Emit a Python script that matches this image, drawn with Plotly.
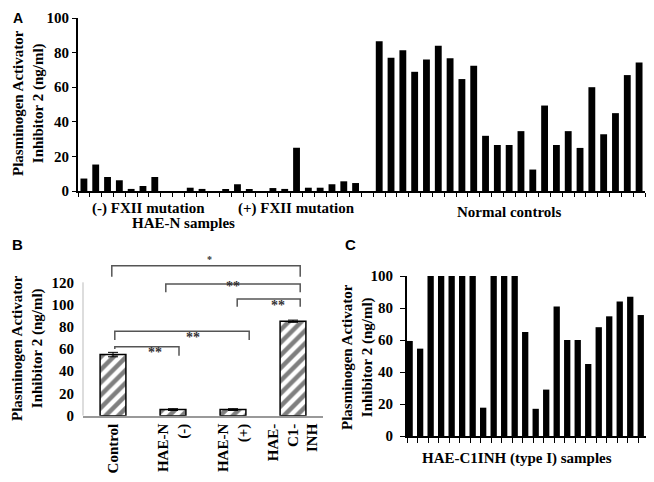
import plotly.graph_objects as go

W, H = 654, 482          # browser window
BODY = 8                 # default page margin around the plot div
FW, FH = W - 2 * BODY, H - 2 * BODY

# ---------------- Panel A data ----------------
fxii_neg = [7.2, 15.3, 8.1, 6.2, 1.2, 2.9, 8.1, 0, 0, 1.9, 1.2, 0]
fxii_pos = [1.0, 3.9, 1.0, 0, 1.7, 1.2, 25.0, 1.9, 1.9, 3.9, 5.6, 4.6, 0]
normal_ctrl = [86.5, 77, 81.3, 68.9, 76, 84, 76.8, 64.7, 72.4, 31.9, 26.6, 26.6,
               34.6, 12.4, 49.4, 26.6, 34.6, 24.9, 60, 32.8, 45, 67, 74.3]
group_labels_a = ["(-) FXII mutation", "(+) FXII mutation", "Normal controls"]
yticks_a = [0, 20, 40, 60, 80, 100]

# ---------------- Panel B data ----------------
b_groups = ["Control", "HAE-N<br>(-)", "HAE-N<br>(+)", "HAE-<br>C1-<br>INH"]
b_means = [55, 5.5, 5.5, 85]
b_errs = [2, 0.8, 0.8, 1]
b_comparisons = [(0, 3, "*"), (1, 3, "**"), (2, 3, "**"), (0, 2, "**"), (0, 1, "**")]
yticks_b = [0, 20, 40, 60, 80, 100, 120]

# ---------------- Panel C data ----------------
c1inh = [59.4, 54.6, 100, 100, 100, 100, 100, 17.7, 100, 100, 100, 65, 17, 29,
         81, 60, 60, 45, 68, 74.8, 84, 87, 75.6]
yticks_c = [0, 20, 40, 60, 80, 100]

Y_TITLE = "Plasminogen Activator<br>Inhibitor 2 (ng/ml)"


def fx(px):
    return (px - BODY) / FW


def fy(py):
    return 1 - (py - BODY) / FH


SERIF = "Liberation Serif"
SANS = "Liberation Sans"

a_vals = fxii_neg + fxii_pos + normal_ctrl
a_x = list(range(len(a_vals)))

fig = go.Figure()
fig.add_trace(go.Bar(x=a_x, y=a_vals, xaxis="x", yaxis="y",
                     marker=dict(color="black", line=dict(width=0)), width=0.58))
fig.add_trace(go.Bar(
    x=list(range(len(b_means))), y=b_means, xaxis="x2", yaxis="y2", width=0.43,
    marker=dict(color="white", line=dict(color="black", width=1.5),
                pattern=dict(shape="/", fgcolor="black", bgcolor="white",
                             size=9, solidity=0.5)),
    error_y=dict(type="data", array=b_errs, color="black", thickness=1, width=5)))
fig.add_trace(go.Bar(x=list(range(len(c1inh))), y=c1inh, xaxis="x3", yaxis="y3",
                     marker=dict(color="black", line=dict(width=0)), width=0.6))

tickfont = dict(family=SERIF, size=15, color="black", weight="bold")
common = dict(automargin=False, showgrid=False, zeroline=False)

fig.update_layout(
    width=FW, height=FH, autosize=False,
    margin=dict(l=0, r=0, t=0, b=0, pad=0),
    paper_bgcolor="white", plot_bgcolor="white",
    showlegend=False,
    font=dict(family=SERIF, size=15, color="black"),
    xaxis=dict(domain=[fx(78), fx(645)], range=[-0.5, len(a_vals) - 0.5],
               showline=True, linecolor="black", linewidth=2,
               ticks="outside", ticklen=4, tickwidth=1, tickcolor="black",
               tickvals=[i - 0.5 for i in range(len(a_vals) + 1)],
               showticklabels=False, anchor="y", **common),
    yaxis=dict(domain=[fy(191), fy(18)], range=[0, 100],
               showline=True, linecolor="black", linewidth=2,
               ticks="outside", ticklen=4, tickcolor="black",
               tickvals=yticks_a, tickfont=tickfont, anchor="x", **common),
    xaxis2=dict(domain=[fx(83), fx(323)], range=[-0.5, len(b_means) - 0.5],
                showline=True, linecolor="#999", linewidth=2, ticks="",
                tickvals=list(range(len(b_groups))), ticktext=b_groups,
                tickangle=-90, tickfont=tickfont, anchor="y2", **common),
    yaxis2=dict(domain=[fy(415.7), fy(260.1)], range=[0, 140],
                showline=False, ticks="", tickvals=yticks_b, tickfont=tickfont,
                ticklabelstandoff=8, anchor="x2", **common),
    xaxis3=dict(domain=[fx(407), fx(646)], range=[-0.25, len(c1inh) - 0.5],
                showline=True, linecolor="black", linewidth=2,
                ticks="outside", ticklen=5, tickcolor="black",
                tickvals=[i - 0.25 for i in range(len(c1inh) + 1)],
                showticklabels=False, anchor="y3", **common),
    yaxis3=dict(domain=[fy(436), fy(276)], range=[0, 100],
                showline=True, linecolor="black", linewidth=2,
                ticks="outside", ticklen=5, tickcolor="black",
                tickvals=yticks_c, tickfont=tickfont, ticklabelstandoff=4,
                anchor="x3", **common),
)

shapes = []
# y-axis line of panel B (stops at the top tick)
shapes.append(dict(type="line", xref="paper", yref="y2", x0=fx(83), x1=fx(83),
                   y0=0, y1=yticks_b[-1], line=dict(color="#bbb", width=1)))

# significance brackets for panel B
levels = [135, 118.6, 105, 76, 62]
drops_l = [125, 111, 98, 68, 60]
drops_r = [125, 111, 98, 68, 54]
off_l = [-0.02, -0.12, 0.07, 0.03, 0.03]
off_r = [0.12, 0.12, 0.12, 0.27, 0.1]
lab_dx = [0.05, 0.0, 0.15, 0.18, 0.13]
lab_shift = [6, -3, -6, -6, -6]
annotations = []
for k, (i, j, lab) in enumerate(b_comparisons):
    x0 = i + off_l[k]
    x1 = j + off_r[k]
    y = levels[k]
    path = f"M {x0},{drops_l[k]} L {x0},{y} L {x1},{y} L {x1},{drops_r[k]}"
    shapes.append(dict(type="path", xref="x2", yref="y2", path=path,
                       line=dict(color="#555", width=1.5)))
    annotations.append(dict(xref="x2", yref="y2", x=(x0 + x1) / 2 + lab_dx[k], y=y,
                            xanchor="center", yanchor="middle",
                            text=lab, showarrow=False, yshift=lab_shift[k],
                            font=dict(family=SERIF, size=14 if lab == "**" else 10,
                                      color="#333", weight="bold")))

# panel letters
annotations.append(dict(xref="paper", yref="paper", x=fx(18), y=1.0,
                        xanchor="center", yanchor="top", text="A", showarrow=False,
                        font=dict(family=SANS, size=14, color="black", weight="bold")))
for letter, (px, py) in zip(["B", "C"], [(18, 244), (350, 244)]):
    annotations.append(dict(xref="paper", yref="paper", x=fx(px), y=fy(py),
                            xanchor="center", yanchor="middle",
                            text=letter, showarrow=False,
                            font=dict(family=SANS, size=15, color="black", weight="bold")))

# y-axis titles
for (px, py) in [(28, 103), (27, 348), (357, 357)]:
    annotations.append(dict(xref="paper", yref="paper", x=fx(px), y=fy(py),
                            xanchor="center", yanchor="middle",
                            text=Y_TITLE, textangle=-90, showarrow=False,
                            font=dict(family=SERIF, size=15, color="black", weight="bold")))

# panel A group labels
groups_a = [fxii_neg, fxii_pos, normal_ctrl]
start = 0
for lab, grp, py in zip(group_labels_a, groups_a, [208, 208, 212]):
    center = start + (len(grp) - 1) / 2
    start += len(grp)
    annotations.append(dict(xref="x", yref="paper", x=center, y=fy(py),
                            xanchor="center", yanchor="middle",
                            text=lab, showarrow=False,
                            font=dict(family=SERIF, size=15, color="black", weight="bold")))
annotations.append(dict(xref="paper", yref="paper", x=fx(183), y=fy(223),
                        xanchor="center", yanchor="middle",
                        text="HAE-N samples", showarrow=False,
                        font=dict(family=SERIF, size=15, color="black", weight="bold")))
annotations.append(dict(xref="paper", yref="paper", x=fx(517), y=fy(458),
                        xanchor="center", yanchor="middle",
                        text="HAE-C1INH (type I) samples", showarrow=False,
                        font=dict(family=SERIF, size=15, color="black", weight="bold")))

fig.update_layout(shapes=shapes, annotations=annotations)
fig.write_html("out.html")
